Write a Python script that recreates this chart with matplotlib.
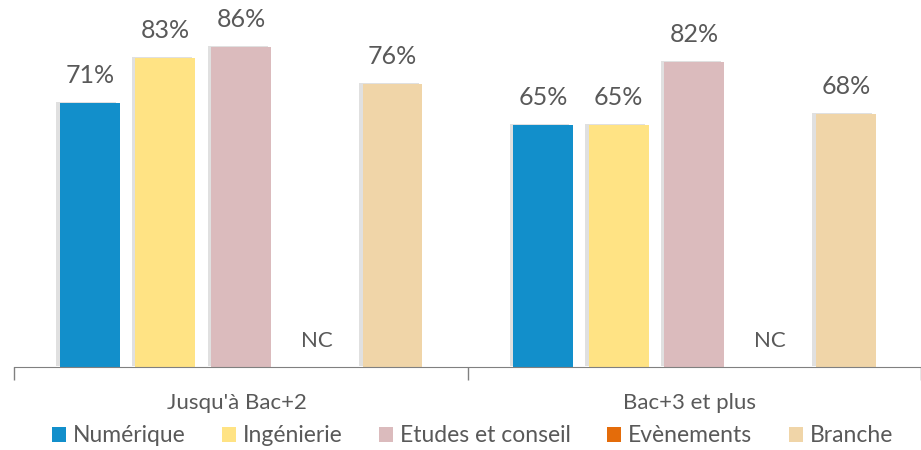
import numpy as np
import matplotlib.pyplot as plt
import matplotlib.patheffects as pe
from matplotlib.patches import Patch
from matplotlib.transforms import blended_transform_factory

plt.rcParams['font.family'] = ['Lato', 'DejaVu Sans']

# Données
groups = ["Jusqu'à Bac+2", "Bac+3 et plus"]
series = ['Numérique', 'Ingénierie', 'Etudes et conseil', 'Evènements', 'Branche']
numerique = [71, 65]
ingenierie = [83, 65]
etudes = [86, 82]
evenements = [None, None]  # NC
branche = [76, 68]
values = [numerique, ingenierie, etudes, evenements, branche]
colors = ['#128FCB', '#FFE384', '#DBBBBD', '#E46C0A', '#F0D5A8']
txt = '#595959'

fig = plt.figure(figsize=(9.21, 4.5), dpi=100)
ax = fig.add_axes([14 / 921, 83 / 450, 907 / 921, 367 / 450])

step = 0.167
width = 0.132
x = np.arange(len(groups))
shadow = [pe.SimplePatchShadow(offset=(-2.5, 0.5), shadow_rgbFace='#9a9a9a', alpha=0.3), pe.Normal()]

for i, (name, vals) in enumerate(zip(series, values)):
    pos = x + (i - 2) * step
    for xp, v in zip(pos, vals):
        if v is None:
            ax.text(xp, 7, 'NC', ha='center', va='center', fontsize=16, color=txt)
            continue
        b = ax.bar(xp, v, width, color=colors[i])
        for p in b:
            p.set_path_effects(shadow)
        ax.text(xp, v + 4.3, f'{v}%', ha='center', va='bottom', fontsize=18, color=txt)

ax.set_xlim(-0.501, 1.492)
ax.set_ylim(0, 98.6)
for s in ['top', 'right', 'left']:
    ax.spines[s].set_visible(False)
ax.spines['bottom'].set_color('#808080')
ax.set_yticks([])
ax.set_xticks([-0.5, 0.5, 1.5])
ax.set_xticklabels([])
ax.tick_params(axis='x', direction='out', length=9, color='#808080', width=1)

tr = blended_transform_factory(ax.transData, fig.transFigure)
for xp, g in zip(x, groups):
    ax.text(xp - 0.01, 1 - 403 / 450, g, transform=tr, ha='center', va='center', fontsize=16, color=txt)

handles = [Patch(facecolor=c, label=s) for s, c in zip(series, colors)]
fig.legend(handles=handles, loc='center', bbox_to_anchor=(0.513, 1 - 436 / 450), ncol=5,
           frameon=False, fontsize=16.5, labelcolor=txt, handlelength=0.6, handleheight=0.6,
           handletextpad=0.3, columnspacing=1.6)

fig.savefig('out.png', dpi=100)
